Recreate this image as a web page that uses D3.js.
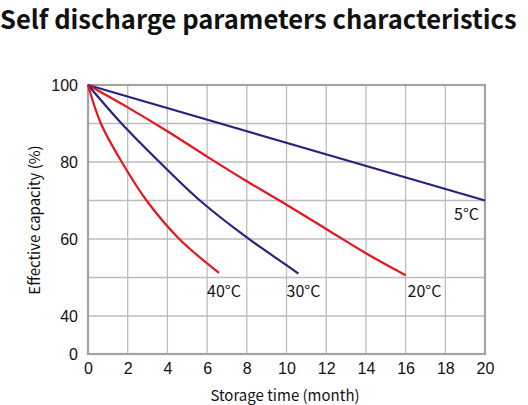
<!doctype html>
<html lang="en">
  <head>
    <meta charset="UTF-8" />
    <title>Self discharge parameters characteristics</title>
    <script src="https://d3js.org/d3.v7.min.js"></script>
    <style>
      body {
        margin: 0;
        padding: 0;
        background-color: #ffffff;
        font-family: 'Noto Sans CJK SC', 'Noto Sans', sans-serif;
      }

      .title {
        font-size: 26px;
        font-weight: 700;
        fill: #111111;
      }

      .tick-label {
        font-size: 16px;
        fill: #111111;
      }

      .axis-title {
        font-size: 15px;
        fill: #111111;
      }

      .curve-label {
        font-size: 16px;
        fill: #111111;
      }
    </style>
  </head>
  <body>
    <div id="chart"></div>

    <script>
      // Months and effective capacity (%)
      const curve5 = [[0, 100], [20, 70]]
      const curve20 = [[0, 100], [2, 94.2], [4, 88], [6, 81.4], [8, 75], [10, 68.9], [12, 62.6], [14, 56.3], [16, 50.6]]
      const curve30 = [[0, 100], [1.69, 90], [3.6, 80], [5.64, 70], [8, 60.4], [10, 53.2], [10.6, 51]]
      const curve40 = [[0, 100], [0.65, 90], [1.7, 80], [2.95, 70], [4.6, 60], [6.6, 51.2]]

      const seriesNames = ['5°C', '20°C', '30°C', '40°C']
      const seriesData = [curve5, curve20, curve30, curve40]
      // where each name is written: [month, capacity]
      const labelAt = [[19.7, 66.5], [16.1, 46.5], [10, 46.5], [6, 46.5]]

      const xTicks = [0, 2, 4, 6, 8, 10, 12, 14, 16, 18, 20]
      const yTicks = [0, 40, 60, 80, 100]
      const yGrid = [40, 50, 60, 70, 80, 90, 100]

      const width = 528
      const height = 405
      const colors = ['#25247f', '#e8141e', '#25247f', '#e8141e']

      const svg = d3
        .select('#chart')
        .append('svg')
        .attr('width', width)
        .attr('height', height)

      const title = svg
        .append('text')
        .attr('class', 'title')
        .attr('x', 0)
        .attr('y', 29)
        .text('Self discharge parameters characteristics')

      // fit the title to the width it has in the original
      const titleLen = title.node().getComputedTextLength()
      title.style('font-size', `${(26 * 517) / titleLen}px`)

      // x axis: 0..20 months
      const x = d3.scaleLinear().domain([0, 20]).range([88, 485])
      // y axis is broken: 0 sits one grid step under 40
      const y = d3.scaleLinear().domain([0, 40, 100]).range([354, 316, 85])

      const grid = svg.append('g')

      grid
        .selectAll('.vgrid')
        .data(xTicks)
        .enter()
        .append('line')
        .attr('x1', (d) => x(d))
        .attr('x2', (d) => x(d))
        .attr('y1', y(100))
        .attr('y2', y(0))
        .attr('stroke', '#bdbdbd')
        .attr('stroke-width', 1.3)

      grid
        .selectAll('.hgrid')
        .data(yGrid)
        .enter()
        .append('line')
        .attr('x1', x(0))
        .attr('x2', x(20))
        .attr('y1', (d) => y(d))
        .attr('y2', (d) => y(d))
        .attr('stroke', '#bdbdbd')
        .attr('stroke-width', 1.3)

      // frame
      svg
        .append('rect')
        .attr('x', x(0))
        .attr('y', y(100))
        .attr('width', x(20) - x(0))
        .attr('height', y(0) - y(100))
        .attr('fill', 'none')
        .attr('stroke', '#a3a3a3')
        .attr('stroke-width', 2.2)

      // tick labels
      svg
        .append('g')
        .attr('transform', `translate(0, ${y(0)})`)
        .call(d3.axisBottom(x).tickValues(xTicks).tickSize(0).tickPadding(9))
        .call((g) => g.select('.domain').remove())
        .call((g) =>
          g.selectAll('.tick text').attr('class', 'tick-label').attr('font-family', null).attr('font-size', null)
        )

      svg
        .append('g')
        .attr('transform', `translate(${x(0)}, 0)`)
        .call(d3.axisLeft(y).tickValues(yTicks).tickSize(0).tickPadding(10))
        .call((g) => g.select('.domain').remove())
        .call((g) =>
          g.selectAll('.tick text').attr('class', 'tick-label').attr('font-family', null).attr('font-size', null)
        )

      svg
        .append('text')
        .attr('class', 'axis-title')
        .attr('x', 285)
        .attr('y', 401)
        .attr('text-anchor', 'middle')
        .text('Storage time (month)')

      svg
        .append('text')
        .attr('class', 'axis-title')
        .attr('transform', 'translate(40, 220) rotate(-90)')
        .attr('text-anchor', 'middle')
        .text('Effective capacity (%)')

      const line = d3
        .line()
        .x((d) => x(d[0]))
        .y((d) => y(d[1]))
        .curve(d3.curveCatmullRom.alpha(0.5))

      svg
        .selectAll('.curve')
        .data(seriesData)
        .enter()
        .append('path')
        .attr('d', line)
        .attr('fill', 'none')
        .attr('stroke', (d, i) => colors[i])
        .attr('stroke-width', 2.2)

      svg
        .selectAll('.curve-label')
        .data(seriesNames)
        .enter()
        .append('text')
        .attr('class', 'curve-label')
        .attr('x', (d, i) => x(labelAt[i][0]))
        .attr('y', (d, i) => y(labelAt[i][1]))
        .attr('dy', '0.35em')
        .attr('text-anchor', (d, i) => (i === 0 ? 'end' : 'start'))
        .text((d) => d)
    </script>
  </body>
</html>
